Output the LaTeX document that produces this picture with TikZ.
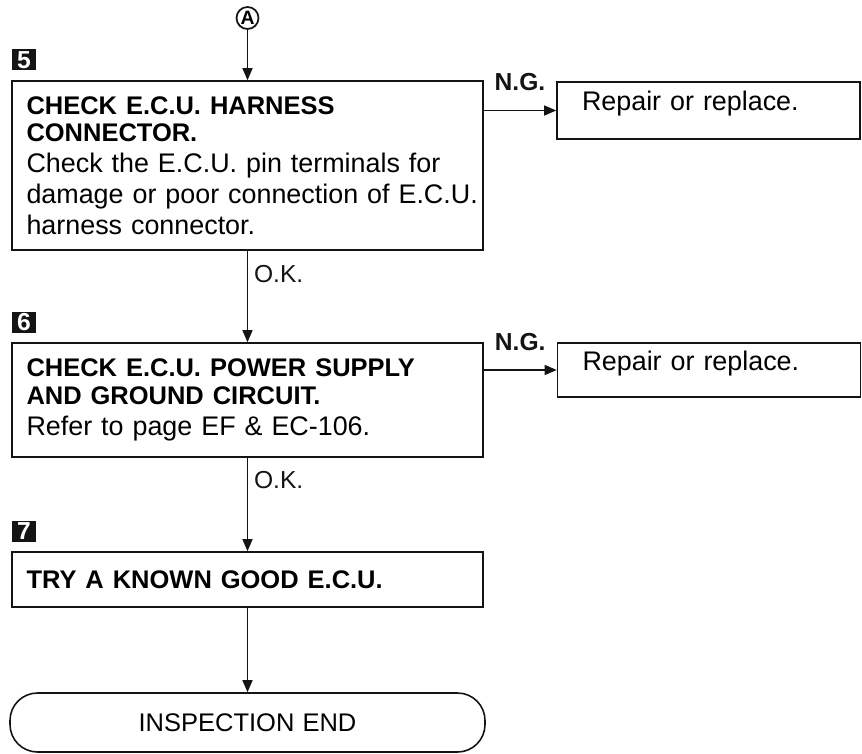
\documentclass[tikz,border=0pt]{standalone}
\usepackage{fontspec}
\setmainfont{Liberation Sans}[WordSpace=1.15]
\usepackage{tikz}
\usetikzlibrary{arrows.meta, positioning}
\definecolor{encre}{RGB}{20, 20, 20}
\newcommand{\titre}[1]{{\bfseries\fontsize{14.5}{17.6}\selectfont #1}}

\begin{document}
\begin{tikzpicture}[
  etape/.style={rectangle, draw=encre, line width=0.9pt,
    text width=8.84cm, inner xsep=0.29cm, align=left,
    font=\fontsize{15.3}{17.6}\selectfont},
  reparer/.style={rectangle, draw=encre, line width=0.9pt,
    text width=5.06cm, inner xsep=0.5cm, align=left, text depth=0.38cm,
    font=\fontsize{15.3}{17.6}\selectfont},
  fin/.style={rectangle, rounded corners=0.55cm, draw=encre,
    line width=0.9pt, minimum width=9.5cm, minimum height=1.18cm,
    font=\fontsize{14.5}{17}\selectfont},
  numero/.style={rectangle, fill=encre, text=white, minimum width=0.48cm,
    minimum height=0.42cm, inner sep=0pt, font=\fontsize{14}{14}\bfseries},
  renvoi/.style={circle, draw=encre, line width=1pt, minimum size=0.44cm,
    inner sep=0pt, font=\fontsize{11}{11}\bfseries},
  arr/.style={-{Triangle[length=0.24cm, width=0.2cm]}, line width=0.8pt,
    draw=encre},
  lbl/.style={font=\fontsize{14}{14}\selectfont, text=encre},
]
\useasboundingbox (0,0) rectangle (17.24,15.06);
\node[renvoi] (ptA) at (4.95, 14.7) {A};
\node[numero] (n5) at (0.48, 13.86) {5};
\node[etape, minimum height=3.38cm] (harnais) at (4.95, 11.75)
  {\titre{CHECK E.C.U. HARNESS}\\[-2pt]
   \titre{CONNECTOR.}\\
   Check the E.C.U. pin terminals for\\
   \mbox{damage or poor connection of E.C.U.}\\
   harness connector.};
\node[reparer, minimum height=1.14cm] (rep5) at (14.17, 12.85)
  {Repair or replace.};
\node[numero] (n6) at (0.48, 8.62) {6};
\node[etape, minimum height=2.28cm] (alim) at (4.95, 7.06)
  {\titre{CHECK E.C.U. POWER SUPPLY}\\[-2pt]
   \titre{AND GROUND CIRCUIT.}\\
   Refer to page EF \& EC-106.};
\node[reparer, minimum height=1.08cm] (rep6) at (14.18, 7.66)
  {Repair or replace.};
\node[numero] (n7) at (0.48, 4.44) {7};
\node[etape, minimum height=1.1cm] (ecu) at (4.95, 3.47)
  {\titre{TRY A KNOWN GOOD E.C.U.}};
\node[fin] (finInsp) at (4.95, 0.61) {INSPECTION END};
% liaisons
\draw[arr] (ptA) -- (harnais);
\draw[arr] (harnais) -- node[lbl, right, pos=0.25]{O.K.} (alim);
\draw[arr] (alim) -- node[lbl, right, pos=0.24]{O.K.} (ecu);
\draw[arr] (ecu) -- (finInsp);
\draw[arr] (rep5 -| harnais.east) -- node[lbl, above=0.26cm]{\bfseries N.G.} (rep5);
\draw[arr] (rep6 -| alim.east) -- node[lbl, above=0.26cm]{\bfseries N.G.} (rep6);
\end{tikzpicture}
\end{document}
